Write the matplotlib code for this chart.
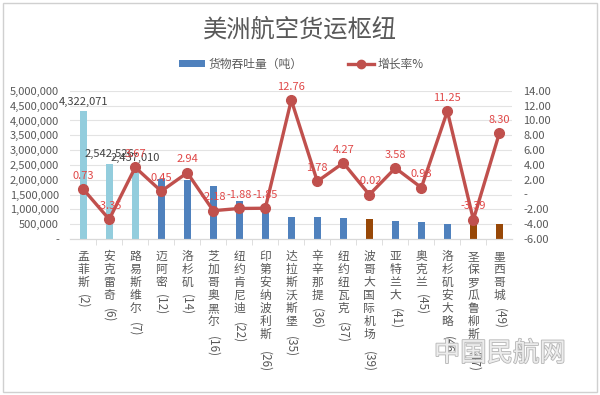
import matplotlib
matplotlib.use("Agg")
import matplotlib.pyplot as plt
import matplotlib.patheffects as pe
from matplotlib.patches import Patch, Rectangle
from matplotlib.lines import Line2D
from matplotlib.ticker import FuncFormatter, MultipleLocator

plt.rcParams['font.family'] = ['Noto Sans CJK SC', 'DejaVu Sans']

# data
cities = ['孟菲斯', '安克雷奇', '路易斯维尔', '迈阿密', '洛杉矶', '芝加哥奥黑尔', '纽约肯尼迪',
          '印第安纳波利斯', '达拉斯沃斯堡', '辛辛那提', '纽约纽瓦克', '波哥大国际机场', '亚特兰大',
          '奥克兰', '洛杉矶安大略', '圣保罗瓜鲁柳斯', '墨西哥城']
ranks = [2, 6, 7, 12, 14, 16, 22, 26, 35, 36, 37, 39, 41, 45, 46, 47, 49]
cargo = [4322071, 2542526, 2437010, 2010000, 1980000, 1790000, 1280000, 1150000,
         740000, 740000, 710000, 680000, 620000, 570000, 510000, 500000, 500000]
growth = [0.73, -3.35, 3.67, 0.45, 2.94, -2.18, -1.88, -1.85, 12.76, 1.78, 4.27,
          -0.02, 3.58, 0.93, 11.25, -3.39, 8.30]
bar_groups = ['top', 'top', 'top', 'us', 'us', 'us', 'us', 'us', 'us', 'us', 'us',
              'latam', 'us', 'us', 'us', 'latam', 'latam']
labelled_bars = [0, 1, 2]

group_colors = {'top': '#93CDDD', 'us': '#4F81BD', 'latam': '#984807'}
line_color = '#C0504D'
text_gray = '#595959'

fig = plt.figure(figsize=(6, 3.95), dpi=100)
fig.patches.append(Rectangle((0.005, 0.008), 0.99, 0.985, transform=fig.transFigure,
                             fill=False, edgecolor='#D0D0D0', linewidth=1))

ax = fig.add_axes([0.117, 0.395, 0.737, 0.375])
ax2 = ax.twinx()

x = list(range(len(cities)))
ax.bar(x, cargo, width=0.27, color=[group_colors[g] for g in bar_groups], zorder=2)
for i in labelled_bars:
    ax.annotate(f'{cargo[i]:,}', (i, cargo[i]), xytext=(0, 3), textcoords='offset points',
                ha='center', va='bottom', fontsize=8, color='#404040')

ax.set_ylim(0, 5000000)
ax.set_xlim(-0.5, len(cities) - 0.5)
ax.yaxis.set_major_locator(MultipleLocator(500000))
ax.yaxis.set_major_formatter(FuncFormatter(lambda v, p: '-' if v == 0 else f'{int(v):,}'))
ax.grid(axis='y', color='#E3E3E3', linewidth=0.8, zorder=0)
ax.set_axisbelow(True)
ax.tick_params(axis='y', length=0, labelsize=8, labelcolor=text_gray, pad=8)
ax.set_xticks([i + 0.5 for i in x[:-1]], minor=True)
ax.set_xticks([])
ax.tick_params(axis='x', which='minor', length=4, color='#D9D9D9')

ax2.plot(x, growth, color=line_color, linewidth=2.4, marker='o', markersize=7, zorder=3)
for i, g in enumerate(growth):
    ax2.annotate(f'{g:.2f}', (i, g), xytext=(0, 6), textcoords='offset points',
                 ha='center', va='bottom', fontsize=8, color='#E04848')
ax2.set_ylim(-6, 14)
ax2.yaxis.set_major_locator(MultipleLocator(2))
ax2.yaxis.set_major_formatter(FuncFormatter(lambda v, p: '-' if abs(v) < 1e-9 else f'{v:.2f}'))
ax2.tick_params(axis='y', length=0, labelsize=8, labelcolor=text_gray, pad=8)

for a in (ax, ax2):
    for s in ('left', 'right', 'top'):
        a.spines[s].set_visible(False)
    a.spines['bottom'].set_color('#D9D9D9')

# vertical category labels: stacked characters, then the rank turned on its side
line_pt = 10.2
xt = ax.get_xaxis_transform()
for i, name in enumerate(cities):
    ax.annotate('\n'.join(name), xy=(i, 0), xycoords=xt, xytext=(0, -8),
                textcoords='offset points', ha='center', va='top', fontsize=8.5,
                color=text_gray, linespacing=0.99)
    ax.annotate(f'({ranks[i]})', xy=(i, 0), xycoords=xt,
                xytext=(0, -8 - len(name) * line_pt - 1), textcoords='offset points',
                ha='center', va='top', rotation=270, fontsize=8.5, color=text_gray)

fig.text(0.5, 0.925, '美洲航空货运枢纽', ha='center', va='center', fontsize=17.5, color=text_gray)

handles = [Patch(facecolor='#4F81BD', edgecolor='none'),
           Line2D([], [], color=line_color, linewidth=2.4, marker='o', markersize=6)]
fig.legend(handles, ['货物吞吐量（吨）', '增长率%'], loc='center', bbox_to_anchor=(0.502, 0.838),
           ncol=2, frameon=False, fontsize=8.5, labelcolor=text_gray, handlelength=2.2,
           handleheight=0.6, columnspacing=3.8, handletextpad=0.3)

fig.text(0.833, 0.105, '中国民航网', ha='center', va='center', fontsize=19, color='#EDEDED',
         path_effects=[pe.withStroke(linewidth=1.2, foreground='#B5B5B5')])

fig.savefig('out.png', dpi=100)
